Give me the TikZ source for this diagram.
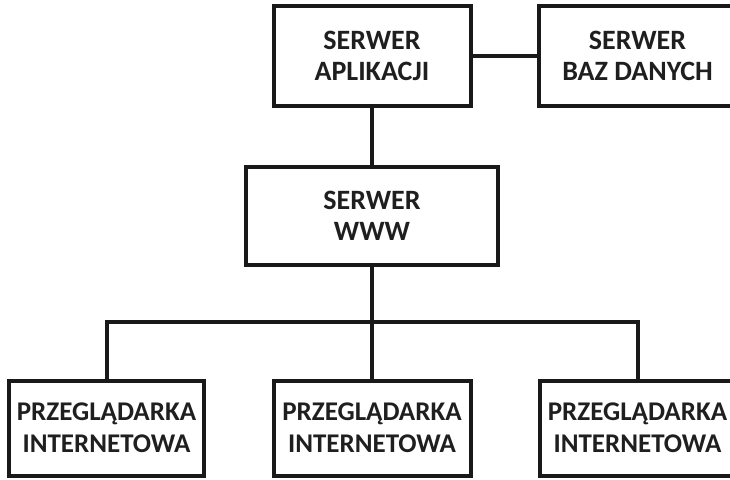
\documentclass[tikz,border=0pt]{standalone}
\usepackage{fontspec}
\setmainfont{Carlito}
\begin{document}
\begin{tikzpicture}[x=1pt,y=-1pt,
  box/.style={draw=black!90, line width=4pt, rectangle, inner sep=0pt, outer sep=0pt,
    align=center, font=\fontsize{28}{31}\selectfont\bfseries, text=black!88},
  small/.style={font=\fontsize{27}{32}\selectfont\bfseries},
  wire/.style={draw=black!90, line width=4pt}]
\useasboundingbox (0,0) rectangle (730,479);
\clip (0,0) rectangle (730,479);
\node[box, minimum width=197pt, minimum height=100pt] (app) at (372,56) {SERWER\\APLIKACJI};
\node[box, minimum width=197pt, minimum height=100pt] (db) at (637.5,56) {SERWER\\BAZ DANYCH};
\node[box, minimum width=252pt, minimum height=98pt] (www) at (372,216) {SERWER\\WWW};
\node[box, small, minimum width=195pt, minimum height=95pt] (b1) at (106.5,428) {PRZEGLĄDARKA\\INTERNETOWA};
\node[box, small, minimum width=197pt, minimum height=95pt] (b2) at (372,428) {PRZEGLĄDARKA\\INTERNETOWA};
\node[box, small, minimum width=195pt, minimum height=95pt] (b3) at (637.5,428) {PRZEGLĄDARKA\\INTERNETOWA};
\coordinate (bus) at (372,322);
\draw[wire] (app.east) -- (db.west);
\draw[wire] (app.south) -- (www.north);
\draw[wire] (www.south) -- (b2.north);
\draw[wire] (b1.north) |- (bus) -| (b3.north);
\end{tikzpicture}
\end{document}
